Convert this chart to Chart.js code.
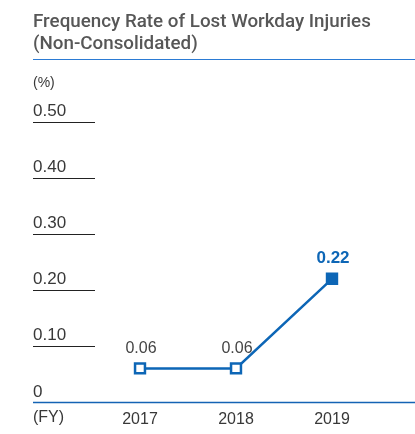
<!DOCTYPE html>
<html>
<head>
<meta charset="utf-8">
<script src="https://cdn.jsdelivr.net/npm/chart.js@4.4.1/dist/chart.umd.min.js"></script>
<style>
    body { margin: 0; background: #fff; }
    .wrap { position: relative; width: 415px; height: 434px; }
    .title {
        position: absolute;
        left: 33px;
        top: 10px;
        right: 0;
        font-family: Roboto, sans-serif;
        font-weight: 500;
        font-size: 18.8px;
        line-height: 22px;
        color: #575757;
        padding-bottom: 5px;
        border-bottom: 1.5px solid #2b7bd4;
    }
    canvas { position: absolute; left: 0; top: 0; }
</style>
</head>
<body>
<div class="wrap">
    <canvas id="injuryChart" width="415" height="434"></canvas>
    <div class="title">Frequency Rate of Lost Workday Injuries<br>(Non-Consolidated)</div>
</div>
<script>
const years = ["2017", "2018", "2019"];
const rates = [0.06, 0.06, 0.22];
const yTicks = [0.1, 0.2, 0.3, 0.4, 0.5];
const yTickLabels = ["0.10", "0.20", "0.30", "0.40", "0.50"];
const valueLabels = ["0.06", "0.06", "0.22"];

const BLUE = "#0d66b6";
const FONT = "'Liberation Sans', Arial, sans-serif";

// short gridlines, tick labels, unit labels and the blue baseline
const axisDecor = {
    id: "axisDecor",
    afterDraw(chart) {
        const { ctx, scales } = chart;
        const y = scales.y;
        const left = 33;
        ctx.save();
        ctx.font = "17px " + FONT;
        ctx.fillStyle = "#383838";
        ctx.textAlign = "left";
        ctx.textBaseline = "middle";

        yTicks.forEach((v, i) => {
            const py = Math.round(y.getPixelForValue(v)) + 0.5;
            ctx.strokeStyle = "#222";
            ctx.lineWidth = 1;
            ctx.beginPath();
            ctx.moveTo(left, py);
            ctx.lineTo(95, py);
            ctx.stroke();
            ctx.fillText(yTickLabels[i], left, py - 11);
        });

        const zero = y.getPixelForValue(0);
        ctx.fillText("0", left, zero - 10);
        ctx.font = "16px " + FONT;
        ctx.fillText("(FY)", left, zero + 16);
        ctx.font = "14px " + FONT;
        ctx.fillText("(%)", left, 83);

        ctx.strokeStyle = "#1463b4";
        ctx.lineWidth = 1.6;
        ctx.beginPath();
        ctx.moveTo(left, zero + 0.5);
        ctx.lineTo(chart.width, zero + 0.5);
        ctx.stroke();
        ctx.restore();
    },
};

// value labels above each point
const pointLabels = {
    id: "pointLabels",
    afterDatasetsDraw(chart) {
        const { ctx } = chart;
        const pts = chart.getDatasetMeta(0).data;
        ctx.save();
        ctx.textAlign = "center";
        ctx.textBaseline = "middle";
        pts.forEach((p, i) => {
            const last = i === pts.length - 1;
            ctx.font = (last ? "bold 17px " : "16px ") + FONT;
            ctx.fillStyle = last ? BLUE : "#444";
            ctx.fillText(valueLabels[i], p.x + 1, p.y - 20);
        });
        ctx.restore();
    },
};

new Chart(document.getElementById("injuryChart"), {
    type: "line",
    data: {
        labels: years,
        datasets: [
            {
                data: rates,
                borderColor: BLUE,
                borderWidth: 2.5,
                pointStyle: "rect",
                pointRadius: 7,
                pointBorderWidth: 2.5,
                pointBorderColor: BLUE,
                pointBackgroundColor: ["#fff", "#fff", BLUE],
                tension: 0,
            },
        ],
    },
    options: {
        responsive: false,
        animation: false,
        events: [],
        layout: { padding: { left: 92, right: 35, top: 122, bottom: 8 } },
        plugins: { legend: { display: false }, tooltip: { enabled: false } },
        scales: {
            x: {
                offset: true,
                grid: { display: false, drawTicks: false },
                border: { display: false },
                afterFit: (scale) => { scale.height = 24; },
                ticks: {
                    padding: 8,
                    color: "#383838",
                    font: { family: FONT, size: 16 },
                },
            },
            y: {
                display: false,
                min: 0,
                max: 0.5,
            },
        },
    },
    plugins: [axisDecor, pointLabels],
});
</script>
</body>
</html>
